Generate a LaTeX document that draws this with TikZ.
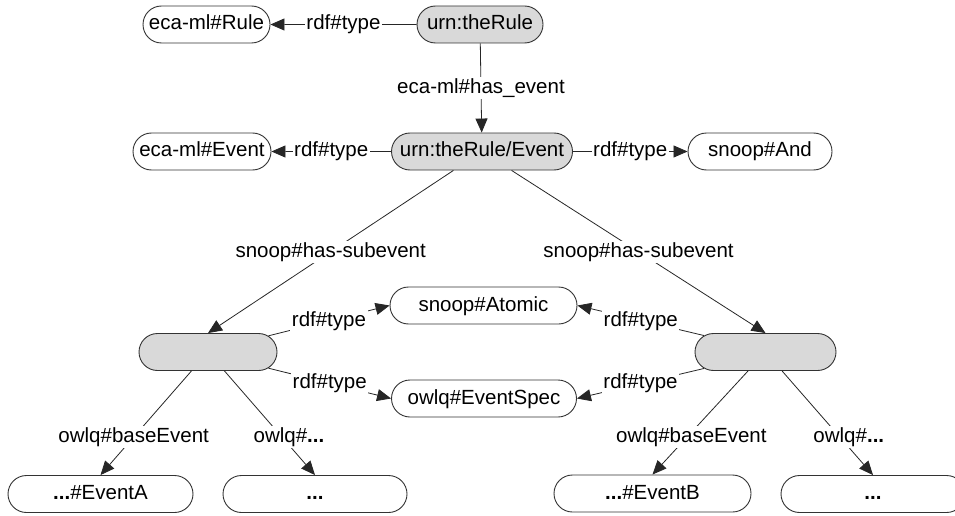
\documentclass[tikz,border=0pt]{standalone}
\usepackage{fontspec}
\setmainfont{Liberation Sans}
\usetikzlibrary{shapes.misc,arrows.meta}

\begin{document}
\begin{tikzpicture}[x=1pt,y=-1pt,
  every node/.style={font=\fontsize{20.5}{24}\selectfont},
  res/.style={rounded rectangle, draw=black!80, line width=0.9pt,
    minimum height=37pt, inner sep=0pt, text height=15pt, text depth=4pt,
    fill=white},
  blank/.style={res, fill=black!15},
  lbl/.style={fill=white, inner sep=1.5pt, text height=15pt, text depth=4pt},
  edge/.style={draw=black!85, line width=0.8pt},
  arr/.style={edge, -{Triangle[length=14pt,width=12pt]}},
]
\clip (0,0) rectangle (955,516);

% resources
\node[res,   minimum width=127pt] (rule) at (206.5,24.5) {eca-ml\#Rule};
\node[blank, minimum width=126pt] (tr)   at (480,24.5)   {urn:theRule};
\node[res,   minimum width=138pt] (ee)   at (202,151.5)  {eca-ml\#Event};
\node[blank, minimum width=181pt] (ev)   at (482,151.5)  {urn:theRule/Event};
\node[res,   minimum width=144pt] (and)  at (760,151.5)  {snoop\#And};
\node[res,   minimum width=187pt] (at)   at (483.5,305.5) {snoop\#Atomic};
\node[res,   minimum width=185pt] (es)   at (484,398.5)  {owlq\#EventSpec};
\node[blank, minimum width=138pt] (lb)   at (208,352)    {};
\node[blank, minimum width=141pt] (rb)   at (765.5,352)  {};
\node[res,   minimum width=185pt] (ea)   at (100.5,494)  {\textbf{...}\#EventA};
\node[res,   minimum width=184pt] (el)   at (315,494)    {\textbf{...}};
\node[res,   minimum width=197pt] (eb)   at (652.5,493.5) {\textbf{...}\#EventB};
\node[res,   minimum width=184pt] (er)   at (873,494)    {\textbf{...}};

% properties
\draw[arr] (tr) -- node[lbl]{rdf\#type} (rule);
\draw[arr] (tr) -- node[lbl]{eca-ml\#has\_event} (ev);
\draw[arr] (ev) -- node[lbl]{rdf\#type} (ee);
\draw[arr] (ev) -- node[lbl]{rdf\#type} (and);
\draw[arr] (ev) -- node[lbl]{snoop\#has-subevent} (lb.north);
\draw[arr] (ev) -- node[lbl]{snoop\#has-subevent} (rb.north);
\draw[arr] (lb.15)  -- node[lbl]{rdf\#type} (at.west);
\draw[arr] (lb.-15) -- node[lbl]{rdf\#type} (es.west);
\draw[arr] (rb.165) -- node[lbl]{rdf\#type} (at.east);
\draw[arr] (rb.195) -- node[lbl]{rdf\#type} (es.east);
\draw[arr] (lb) -- node[lbl,pos=.635]{owlq\#baseEvent} (ea.north);
\draw[arr] (lb) -- node[lbl,pos=.635,xshift=7pt]{owlq\#\textbf{...}} (el.north);
\draw[arr] (rb) -- node[lbl,pos=.635,xshift=4pt]{owlq\#baseEvent} (eb.north);
\draw[arr] (rb) -- node[lbl,pos=.635,xshift=9pt]{owlq\#\textbf{...}} (er.north);
\end{tikzpicture}
\end{document}
